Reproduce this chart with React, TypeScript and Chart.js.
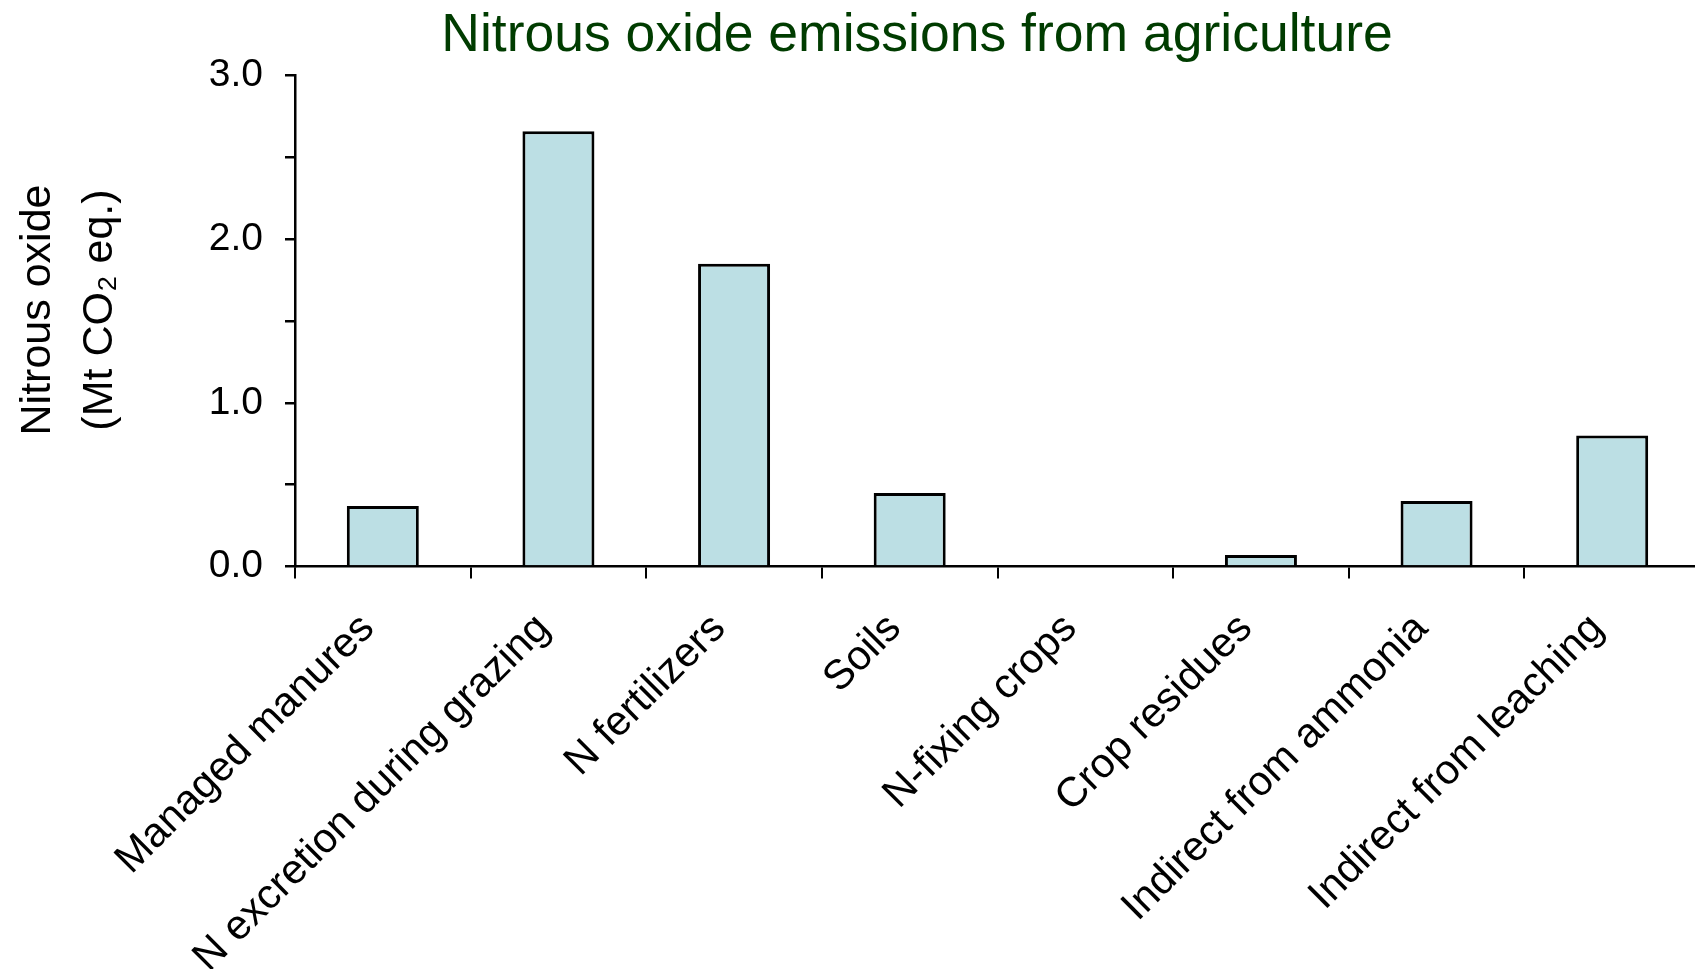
import React, { useEffect, useRef } from 'react';
import { Chart, registerables } from 'chart.js';

Chart.register(...registerables);

const categories = [
  'Managed manures',
  'N excretion during grazing',
  'N fertilizers',
  'Soils',
  'N-fixing crops',
  'Crop residues',
  'Indirect from ammonia',
  'Indirect from leaching',
];
const values = [0.37, 2.66, 1.85, 0.45, 0, 0.07, 0.4, 0.8];
const yMin = 0;
const yMax = 3;
const yStep = 0.5;
const chartTitle = 'Nitrous oxide emissions from agriculture';
const yTitleLines = ['Nitrous oxide', '(Mt CO\u2082 eq.)'];

const FONT = 'Arial, "Liberation Sans", sans-serif';
const W = 1695;
const H = 969;
const CANVAS_W = 1700;

const titlePlugin = {
  id: 'titles',
  afterDraw(chart: any) {
    const ctx = chart.ctx;
    ctx.save();
    ctx.font = `53.5px ${FONT}`;
    ctx.fillStyle = '#003c00';
    ctx.textAlign = 'center';
    ctx.textBaseline = 'alphabetic';
    ctx.fillText(chartTitle, 917, 51);
    ctx.restore();

    ctx.save();
    ctx.font = `43px ${FONT}`;
    ctx.fillStyle = '#000000';
    ctx.textAlign = 'center';
    ctx.textBaseline = 'alphabetic';
    ctx.translate(0, 310);
    ctx.rotate(-Math.PI / 2);
    ctx.fillText(yTitleLines[0], 0, 50);
    ctx.fillText(yTitleLines[1], 0, 112);
    ctx.restore();
  },
};

export default function App() {
  const ref = useRef<HTMLCanvasElement | null>(null);

  useEffect(() => {
    document.body.style.margin = '0';
    document.body.style.overflow = 'hidden';
    const canvas = ref.current;
    if (!canvas) return;
    const chart = new Chart(canvas, {
      type: 'bar',
      data: {
        labels: categories,
        datasets: [
          {
            data: values,
            backgroundColor: '#bcdfe4',
            borderColor: '#000000',
            borderWidth: 3,
            barPercentage: 0.41,
            categoryPercentage: 1,
          },
        ],
      },
      options: {
        responsive: false,
        animation: false,
        devicePixelRatio: 1,
        layout: { padding: { top: 75.7, left: 0, right: 0, bottom: 0 } },
        plugins: {
          legend: { display: false },
          title: { display: false },
          tooltip: { enabled: false },
        },
        scales: {
          x: {
            afterFit: (s: any) => {
              s.height = H - 566.5;
            },
            grid: {
              display: true,
              drawOnChartArea: false,
              drawTicks: true,
              tickLength: 12,
              color: '#000000',
              lineWidth: 2,
              offset: true,
            },
            border: { display: true, color: '#000000', width: 2.5 },
            ticks: {
              autoSkip: false,
              maxRotation: 45,
              minRotation: 45,
              padding: 26,
              labelOffset: -15,
              color: '#000000',
              font: { family: FONT, size: 41.5 },
            },
          },
          y: {
            min: yMin,
            max: yMax,
            afterFit: (s: any) => {
              s.width = 295;
            },
            grid: {
              display: true,
              drawOnChartArea: false,
              drawTicks: true,
              tickLength: 10,
              color: '#000000',
              lineWidth: 2.5,
            },
            border: { display: true, color: '#000000', width: 2.5 },
            ticks: {
              stepSize: yStep,
              autoSkip: false,
              padding: 22,
              color: '#000000',
              font: { family: FONT, size: 39 },
              callback: (v: any) => (Number(v) % 1 === 0 ? Number(v).toFixed(1) : ''),
            },
          },
        },
      },
      plugins: [titlePlugin],
    });
    return () => chart.destroy();
  }, []);

  return (
    <div style={{ width: W, height: H, overflow: 'hidden', background: '#ffffff' }}>
      <canvas ref={ref} width={CANVAS_W} height={H} style={{ display: 'block' }} />
    </div>
  );
}
